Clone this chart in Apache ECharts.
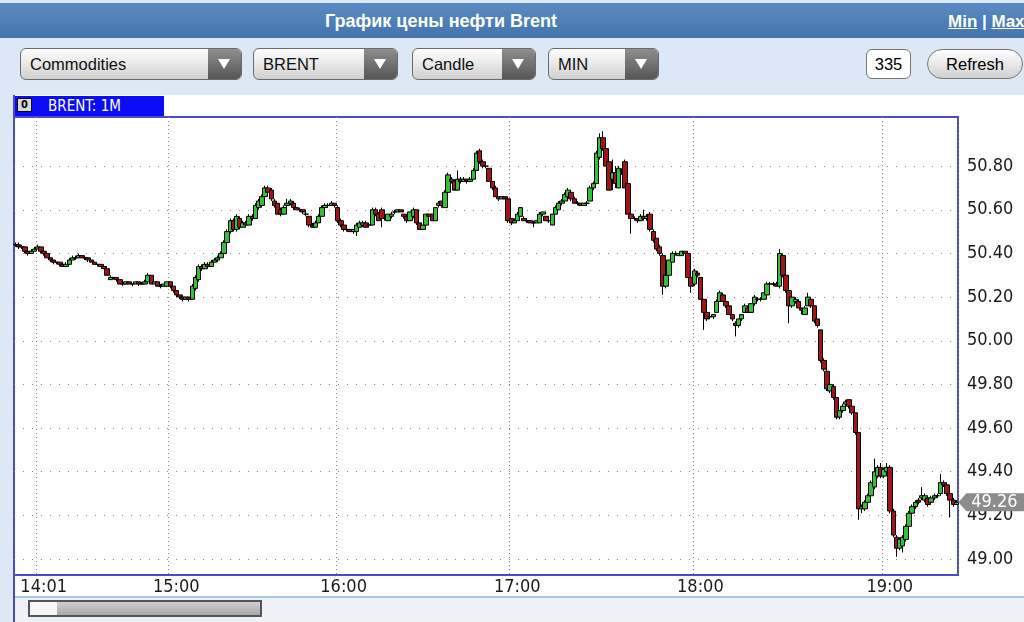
<!DOCTYPE html>
<html><head><meta charset="utf-8">
<script src="https://cdn.jsdelivr.net/npm/echarts@6/dist/echarts.min.js"></script>
<style>
body{margin:0;width:1024px;height:622px;overflow:hidden;background:#dce8f6;font-family:"Liberation Sans",Arial,sans-serif;position:relative}
#hdr{position:absolute;left:0;top:3px;width:1024px;height:35px;background:linear-gradient(#5a8bc2,#4574ad)}
#title{position:absolute;left:0;width:882px;text-align:center;top:8px;color:#fff;font-weight:bold;font-size:18px;font-family:"Liberation Sans Narrow","Liberation Sans",sans-serif}
#mm{position:absolute;left:948px;top:9px;color:#fff;font-size:17px;font-weight:bold;white-space:nowrap}
#mm u{text-decoration:underline}
.dd{position:absolute;top:48px;height:32px;border:1px solid #6b6b6b;border-radius:6px;background:linear-gradient(#fdfdfd,#e6e6e6 55%,#cfcfcf);box-sizing:border-box;font-size:16.5px;line-height:30px;padding-left:9px;color:#111}
.dd .ar{position:absolute;right:0;top:0;bottom:0;width:33px;background:linear-gradient(#8e8e8e,#565656);border-radius:0 5px 5px 0}
.dd .ar:after{content:'';position:absolute;left:10px;top:10px;border-left:6px solid transparent;border-right:6px solid transparent;border-top:10px solid #fff}
#cnt{position:absolute;left:866px;top:49px;width:45px;height:30px;box-sizing:border-box;background:#fff;border:1px solid #777;border-radius:6px;text-align:center;line-height:28px;font-size:16.5px}
#ref{position:absolute;left:927px;top:49px;width:96px;height:30px;box-sizing:border-box;background:linear-gradient(#fdfdfd,#e6e6e6 55%,#d0d0d0);border:1px solid #777;border-radius:16px;text-align:center;line-height:28px;font-size:16.5px}
#area{position:absolute;left:14px;top:95px;width:1010px;height:501px;background:#fff}
#lline{position:absolute;left:13px;top:95px;width:2px;height:527px;background:#4b4bc8}
#tab{position:absolute;left:15px;top:96px;width:149px;height:20px;background:#0b0bf5;color:#fff;font-size:15px;line-height:20px;font-family:"Liberation Sans Narrow","DejaVu Sans Condensed",sans-serif}
#tab span{position:absolute;left:33px}
#ico{position:absolute;left:2px;top:2px;width:15px;height:14px;box-sizing:border-box;background:#d8d8d8;border:1px solid #000;color:#000;font-size:11px;font-weight:bold;line-height:12px;text-align:center}
#bot{position:absolute;left:15px;top:596px;width:1009px;height:26px;background:#eef1f6;border-top:2px solid #a9c4e6;box-sizing:border-box}
#sb{position:absolute;left:28px;top:600px;width:234px;height:17px;box-sizing:border-box;border:2px solid #555;background:linear-gradient(#d0d0d0,#a8a8a8)}
#sbh{position:absolute;left:30px;top:602px;width:27px;height:13px;background:#f6f6f6}
#chart{position:absolute;left:0;top:0;width:1024px;height:622px;z-index:2}
</style></head>
<body>
<div id="hdr"><div id="title">График цены нефти Brent</div><div id="mm"><u>Min</u> | <u>Max</u></div></div>
<div class="dd" style="left:20px;width:222px">Commodities<div class="ar"></div></div>
<div class="dd" style="left:253px;width:145px">BRENT<div class="ar"></div></div>
<div class="dd" style="left:412px;width:124px">Candle<div class="ar"></div></div>
<div class="dd" style="left:548px;width:111px">MIN<div class="ar"></div></div>
<div id="cnt">335</div>
<div id="ref">Refresh</div>
<div id="area"></div>
<div id="bot"></div>
<div id="sb"></div><div id="sbh"></div>
<div id="lline"></div>
<div id="tab"><div id="ico">0</div><span>BRENT: 1M</span></div>
<div id="chart"></div>
<script>
const times = [
"13:53","13:54","13:55","13:56","13:57","13:58","13:59",
"14:01","14:02","14:04","14:05","14:07","14:08","14:10","14:11","14:13","14:14","14:16","14:17","14:19","14:20","14:22","14:23","14:25","14:26","14:28","14:29","14:30","14:32","14:33","14:35","14:36","14:38","14:39","14:41","14:42","14:43","14:45","14:46","14:47","14:49","14:50","14:51","14:53","14:54","14:55","14:57","14:58","14:59",
"15:00","15:01","15:02","15:03","15:04","15:06","15:07","15:08","15:09","15:10","15:11","15:12","15:13","15:15","15:16","15:17","15:18","15:19","15:20","15:21","15:23","15:24","15:25","15:26","15:27","15:28","15:29","15:30","15:32","15:33","15:34","15:35","15:36","15:37","15:38","15:40","15:41","15:42","15:43","15:44","15:45","15:47","15:48","15:49","15:50","15:51","15:52","15:54","15:55","15:56","15:57","15:58","15:59",
"16:00","16:01","16:02","16:03","16:04","16:05","16:06","16:07","16:09","16:10","16:11","16:12","16:13","16:14","16:15","16:16","16:17","16:18","16:20","16:21","16:22","16:23","16:24","16:25","16:26","16:27","16:28","16:29","16:30","16:31","16:32","16:34","16:35","16:36","16:37","16:38","16:39","16:40","16:42","16:43","16:44","16:45","16:46","16:47","16:48","16:49","16:50","16:51","16:53","16:54","16:55","16:56","16:57","16:58","16:59",
"17:00","17:01","17:02","17:03","17:04","17:05","17:06","17:07","17:08","17:09","17:10","17:11","17:12","17:14","17:15","17:16","17:17","17:18","17:19","17:20","17:21","17:22","17:23","17:24","17:25","17:26","17:27","17:28","17:29","17:30","17:31","17:32","17:33","17:34","17:35","17:36","17:37","17:39","17:40","17:41","17:42","17:43","17:44","17:45","17:46","17:47","17:48","17:49","17:50","17:51","17:52","17:53","17:54","17:55","17:56","17:57","17:58","17:59",
"18:00","18:01","18:02","18:03","18:04","18:05","18:06","18:07","18:08","18:09","18:10","18:11","18:12","18:13","18:14","18:15","18:16","18:17","18:18","18:19","18:20","18:21","18:22","18:23","18:24","18:25","18:26","18:27","18:28","18:29","18:30","18:31","18:32","18:33","18:34","18:35","18:36","18:37","18:38","18:39","18:40","18:41","18:42","18:43","18:44","18:45","18:46","18:47","18:48","18:49","18:50","18:51","18:52","18:53","18:54","18:55","18:56","18:57","18:58","18:59",
"19:00","19:01","19:02","19:03","19:04","19:05","19:06","19:07","19:08","19:09","19:10","19:11","19:12","19:13","19:14","19:15","19:16","19:17","19:18","19:19","19:20","19:21","19:22","19:23"
];
const opens = [
50.44,50.44,50.43,50.43,50.41,50.40,50.41,50.42,50.43,50.41,
50.40,50.38,50.37,50.36,50.36,50.35,50.34,50.35,50.37,50.38,
50.38,50.39,50.38,50.38,50.37,50.36,50.35,50.35,50.34,50.33,
50.28,50.29,50.29,50.28,50.26,50.26,50.27,50.26,50.26,50.27,
50.26,50.26,50.27,50.30,50.26,50.27,50.25,50.25,50.25,50.27,
50.25,50.23,50.21,50.20,50.19,50.20,50.19,50.24,50.28,50.34,
50.33,50.35,50.34,50.36,50.37,50.38,50.40,50.45,50.50,50.55,
50.51,50.56,50.52,50.54,50.53,50.57,50.56,50.61,50.62,50.66,
50.70,50.69,50.64,50.63,50.60,50.58,50.62,50.63,50.63,50.61,
50.60,50.60,50.58,50.57,50.53,50.52,50.54,50.57,50.61,50.62,
50.62,50.63,50.61,50.55,50.53,50.51,50.51,50.50,50.50,50.52,
50.53,50.54,50.53,50.53,50.60,50.58,50.60,50.56,50.55,50.57,
50.59,50.59,50.60,50.58,50.57,50.55,50.57,50.60,50.54,50.51,
50.53,50.58,50.58,50.55,50.62,50.64,50.61,50.68,50.74,50.73,
50.69,50.74,50.73,50.74,50.73,50.74,50.78,50.87,50.82,50.80,
50.79,50.73,50.70,50.66,50.65,50.66,50.65,50.56,50.54,50.55,
50.57,50.56,50.55,50.55,50.54,50.54,50.54,50.58,50.57,50.55,
50.53,50.58,50.60,50.63,50.64,50.66,50.68,50.65,50.63,50.63,
50.62,50.63,50.64,50.70,50.72,50.84,50.93,50.88,50.82,50.74,
50.77,50.70,50.78,50.82,50.72,50.58,50.56,50.56,50.55,50.57,
50.56,50.58,50.50,50.47,50.43,50.39,50.25,50.30,50.36,50.40,
50.39,50.39,50.41,50.40,50.29,50.26,50.31,50.29,50.19,50.13,
50.11,50.11,50.13,50.18,50.21,50.18,50.16,50.12,50.08,50.07,
50.10,50.13,50.15,50.13,50.17,50.19,50.19,50.19,50.21,50.26,
50.26,50.26,50.25,50.39,50.30,50.23,50.16,50.18,50.18,50.15,
50.12,50.16,50.19,50.16,50.10,50.05,49.91,49.86,49.77,49.79,
49.74,49.65,49.68,49.71,49.73,49.70,49.67,49.58,49.23,49.23,
49.26,49.29,49.33,49.38,49.42,49.38,49.40,49.42,49.22,49.10,
49.05,49.06,49.09,49.15,49.21,49.24,49.27,49.28,49.27,49.28,
49.26,49.28,49.29,49.30,49.35,49.34,49.30,49.27,49.25
];
const closes = [
50.44,50.43,50.43,50.41,50.40,50.41,50.42,50.43,50.41,50.40,
50.38,50.37,50.36,50.36,50.35,50.34,50.35,50.37,50.38,50.38,
50.39,50.38,50.38,50.37,50.36,50.35,50.35,50.34,50.33,50.30,
50.29,50.29,50.28,50.26,50.26,50.27,50.26,50.26,50.27,50.26,
50.26,50.27,50.30,50.26,50.27,50.25,50.25,50.26,50.27,50.25,
50.23,50.21,50.20,50.19,50.20,50.19,50.25,50.29,50.34,50.33,
50.35,50.34,50.36,50.37,50.38,50.40,50.45,50.50,50.55,50.51,
50.57,50.52,50.54,50.53,50.57,50.56,50.62,50.64,50.66,50.70,
50.68,50.65,50.62,50.58,50.58,50.61,50.63,50.64,50.61,50.60,
50.60,50.59,50.58,50.53,50.52,50.54,50.57,50.61,50.62,50.62,
50.63,50.62,50.55,50.53,50.51,50.51,50.50,50.51,50.53,50.54,
50.54,50.52,50.53,50.60,50.58,50.55,50.56,50.56,50.58,50.58,
50.59,50.60,50.59,50.57,50.55,50.59,50.60,50.54,50.51,50.53,
50.58,50.57,50.55,50.61,50.63,50.62,50.68,50.76,50.73,50.69,
50.74,50.73,50.74,50.73,50.74,50.78,50.86,50.82,50.80,50.80,
50.73,50.70,50.66,50.65,50.66,50.65,50.55,50.54,50.55,50.58,
50.61,50.55,50.55,50.54,50.54,50.55,50.58,50.59,50.55,50.55,
50.58,50.61,50.63,50.64,50.67,50.69,50.65,50.63,50.63,50.62,
50.63,50.63,50.70,50.72,50.86,50.93,50.88,50.80,50.69,50.77,
50.72,50.79,50.78,50.70,50.58,50.56,50.56,50.55,50.57,50.56,
50.57,50.51,50.46,50.42,50.40,50.25,50.30,50.37,50.40,50.40,
50.40,50.41,50.40,50.29,50.25,50.32,50.30,50.19,50.13,50.10,
50.11,50.12,50.18,50.22,50.18,50.16,50.12,50.10,50.07,50.10,
50.12,50.16,50.13,50.17,50.20,50.19,50.19,50.22,50.26,50.26,
50.26,50.25,50.40,50.30,50.23,50.16,50.20,50.19,50.15,50.14,
50.15,50.20,50.16,50.09,50.07,49.91,49.87,49.78,49.80,49.74,
49.65,49.68,49.70,49.72,49.70,49.67,49.58,49.23,49.24,49.26,
49.29,49.35,49.40,49.42,49.38,49.41,49.42,49.22,49.11,49.05,
49.09,49.10,49.15,49.21,49.24,49.26,49.26,49.29,49.29,49.25,
49.28,49.29,49.29,49.35,49.34,49.30,49.27,49.25,49.26
];
const lows = [
50.43,50.42,50.42,50.40,50.39,50.40,50.41,50.42,50.40,50.39,
50.38,50.36,50.35,50.35,50.34,50.34,50.34,50.35,50.37,50.37,
50.38,50.38,50.37,50.36,50.36,50.35,50.34,50.34,50.33,50.30,
50.28,50.28,50.27,50.26,50.25,50.26,50.26,50.25,50.26,50.25,
50.26,50.26,50.27,50.26,50.26,50.25,50.24,50.25,50.25,50.24,
50.22,50.20,50.19,50.18,50.19,50.18,50.19,50.23,50.27,50.32,
50.33,50.34,50.34,50.36,50.36,50.38,50.39,50.44,50.49,50.50,
50.50,50.51,50.52,50.52,50.53,50.55,50.56,50.60,50.61,50.66,
50.67,50.64,50.61,50.58,50.57,50.58,50.61,50.62,50.60,50.60,
50.59,50.58,50.57,50.52,50.52,50.52,50.54,50.57,50.60,50.61,
50.62,50.61,50.54,50.52,50.50,50.50,50.50,50.49,50.48,50.52,
50.52,50.52,50.52,50.53,50.57,50.55,50.52,50.55,50.55,50.56,
50.58,50.59,50.59,50.56,50.54,50.55,50.56,50.53,50.51,50.51,
50.52,50.56,50.55,50.55,50.61,50.61,50.61,50.67,50.72,50.69,
50.69,50.72,50.73,50.72,50.73,50.74,50.78,50.81,50.79,50.79,
50.73,50.69,50.66,50.64,50.65,50.65,50.54,50.53,50.54,50.55,
50.57,50.55,50.54,50.54,50.52,50.54,50.54,50.57,50.55,50.54,
50.53,50.58,50.60,50.62,50.64,50.65,50.64,50.63,50.62,50.62,
50.62,50.62,50.64,50.69,50.72,50.83,50.87,50.80,50.69,50.69,
50.70,50.70,50.76,50.70,50.58,50.49,50.55,50.54,50.55,50.55,
50.55,50.50,50.45,50.41,50.39,50.21,50.24,50.29,50.36,50.39,
50.39,50.39,50.40,50.29,50.22,50.25,50.29,50.19,50.05,50.09,
50.10,50.10,50.13,50.18,50.18,50.15,50.12,50.09,50.02,50.06,
50.09,50.13,50.13,50.13,50.16,50.18,50.18,50.19,50.21,50.25,
50.25,50.25,50.24,50.29,50.22,50.08,50.15,50.17,50.15,50.12,
50.12,50.16,50.15,50.08,50.06,49.90,49.86,49.77,49.76,49.73,
49.64,49.64,49.67,49.70,49.69,49.66,49.57,49.18,49.21,49.22,
49.25,49.29,49.32,49.37,49.37,49.37,49.39,49.21,49.10,49.01,
49.04,49.03,49.08,49.15,49.21,49.23,49.25,49.27,49.26,49.24,
49.25,49.27,49.28,49.29,49.33,49.29,49.19,49.24,49.25
];
const highs = [
50.45,50.45,50.44,50.43,50.41,50.42,50.43,50.44,50.43,50.41,
50.40,50.38,50.37,50.36,50.36,50.35,50.36,50.38,50.39,50.39,
50.40,50.39,50.38,50.38,50.37,50.36,50.35,50.35,50.34,50.33,
50.30,50.29,50.29,50.28,50.27,50.27,50.27,50.26,50.27,50.27,
50.27,50.28,50.31,50.30,50.27,50.27,50.26,50.26,50.27,50.27,
50.25,50.23,50.21,50.20,50.20,50.20,50.26,50.30,50.35,50.35,
50.36,50.36,50.37,50.38,50.39,50.41,50.46,50.51,50.56,50.56,
50.58,50.57,50.55,50.55,50.58,50.58,50.63,50.65,50.67,50.71,
50.71,50.70,50.65,50.63,50.61,50.62,50.65,50.65,50.64,50.61,
50.61,50.60,50.59,50.57,50.54,50.55,50.58,50.62,50.63,50.63,
50.64,50.63,50.62,50.56,50.54,50.52,50.51,50.51,50.54,50.55,
50.55,50.55,50.54,50.61,50.61,50.59,50.61,50.57,50.58,50.59,
50.60,50.60,50.60,50.58,50.57,50.59,50.61,50.60,50.54,50.53,
50.58,50.58,50.58,50.61,50.64,50.64,50.69,50.77,50.75,50.74,
50.78,50.75,50.75,50.74,50.75,50.79,50.87,50.88,50.83,50.81,
50.79,50.73,50.71,50.66,50.66,50.66,50.66,50.56,50.56,50.59,
50.61,50.57,50.56,50.55,50.55,50.55,50.59,50.59,50.57,50.56,
50.58,50.62,50.64,50.65,50.68,50.70,50.69,50.66,50.64,50.63,
50.63,50.64,50.71,50.73,50.87,50.95,50.96,50.90,50.83,50.83,
50.80,50.80,50.79,50.83,50.73,50.59,50.57,50.56,50.58,50.60,
50.58,50.59,50.51,50.47,50.44,50.40,50.31,50.37,50.41,50.41,
50.40,50.41,50.41,50.40,50.30,50.33,50.32,50.29,50.19,50.13,
50.12,50.12,50.19,50.23,50.22,50.18,50.16,50.12,50.09,50.10,
50.12,50.17,50.16,50.17,50.21,50.20,50.20,50.22,50.27,50.27,
50.27,50.27,50.42,50.40,50.31,50.23,50.21,50.20,50.19,50.15,
50.16,50.22,50.20,50.16,50.10,50.05,49.92,49.87,49.80,49.80,
49.74,49.68,49.71,49.73,49.73,49.70,49.67,49.58,49.25,49.27,
49.30,49.36,49.46,49.43,49.44,49.42,49.44,49.43,49.23,49.11,
49.10,49.11,49.16,49.22,49.25,49.27,49.28,49.33,49.30,49.29,
49.29,49.30,49.30,49.39,49.36,49.35,49.31,49.28,49.27
];
const hourLabels = ["14:01","15:00","16:00","17:00","18:00","19:00"];
const yTicks = [49.00,49.20,49.40,49.60,49.80,50.00,50.20,50.40,50.60,50.80];
const lastPrice = 49.26;

const candles = times.map((t, i) => [opens[i], closes[i], lows[i], highs[i]]);
const axisFont = '"Liberation Sans Narrow","DejaVu Sans Condensed","Liberation Sans",sans-serif';

const chart = echarts.init(document.getElementById('chart'), null, {renderer: 'canvas'});
chart.setOption({
  animation: false,
  backgroundColor: 'transparent',
  grid: {left: 14, top: 117, right: 66, bottom: 47, show: true, backgroundColor: '#fff', borderColor: '#4b4bc8', borderWidth: 2},
  xAxis: {
    type: 'category', data: times, boundaryGap: true,
    axisLine: {show: false}, axisTick: {show: false},
    axisLabel: {interval: (i, v) => hourLabels.includes(v), color: '#1a1a1a', fontSize: 18, margin: 3, padding: [0, 0, 0, 12], fontFamily: axisFont},
    splitLine: {show: true, interval: (i, v) => hourLabels.includes(v), lineStyle: {color: '#8a8a8a', width: 1, type: [1, 3]}}
  },
  yAxis: {
    type: 'value', position: 'right', min: 48.927, max: 51.025, splitNumber: 10, scale: true,
    axisLine: {show: false}, axisTick: {show: false}, splitLine: {show: false},
    axisLabel: {formatter: v => yTicks.some(t => Math.abs(t - v) < 0.001) ? v.toFixed(2) : '', color: '#1a1a1a', fontSize: 18, margin: 9, fontFamily: axisFont}
  },
  series: [
    {
      type: 'line', data: [], z: 1, silent: true,
      markLine: {silent: true, z: 1, symbol: 'none', label: {show: false}, animation: false,
        lineStyle: {color: '#8a8a8a', width: 1, type: [1, 8]},
        data: yTicks.map(v => ({yAxis: v}))}
    },
    {
      type: 'candlestick', data: candles, z: 3, barWidth: 5,
      itemStyle: {color: '#33c233', color0: '#a01518', borderColor: '#000', borderColor0: '#000', borderWidth: 1},
      markPoint: {
        silent: true, animation: false,
        symbol: 'path://M0,9 L8,0 L66,0 L66,18 L8,18 Z', symbolSize: [66, 18], symbolKeepAspect: false,
        symbolOffset: [35, 0],
        itemStyle: {color: '#8c8c8c'},
        label: {show: true, color: '#fff', fontSize: 18, fontFamily: axisFont, formatter: () => lastPrice.toFixed(2), offset: [3, 0]},
        data: [{coord: [times[times.length - 1], lastPrice], value: lastPrice}]
      }
    }
  ]
});
</script>
</body></html>
